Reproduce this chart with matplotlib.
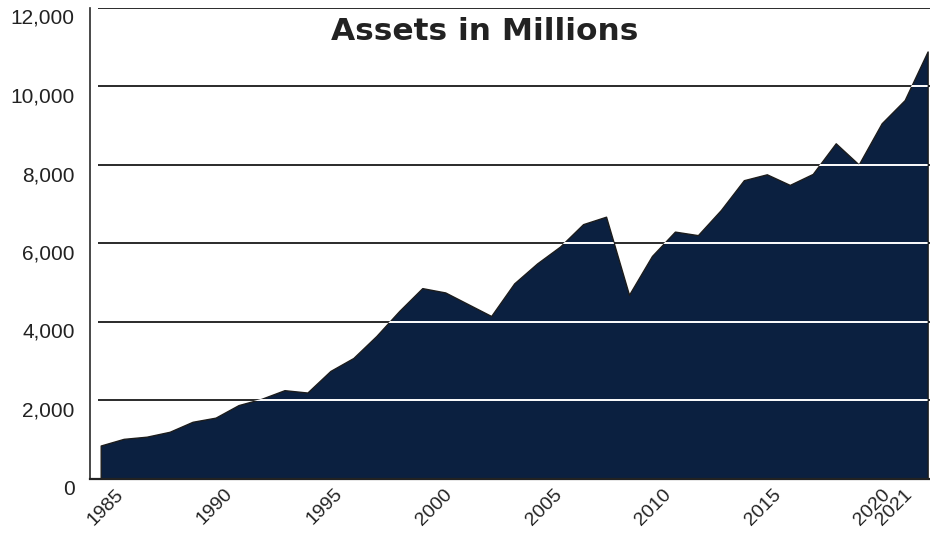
import matplotlib
matplotlib.use("Agg")
import matplotlib.pyplot as plt
import matplotlib.transforms as mtransforms
from matplotlib.patches import Polygon
from matplotlib.ticker import FuncFormatter
import numpy as np

plt.rcParams['font.family'] = ['Liberation Sans', 'DejaVu Sans']

years = list(range(1985, 2022))
assets = [840, 1010, 1065, 1190, 1445, 1550, 1870, 2030, 2250, 2190, 2740,
          3070, 3630, 4270, 4850, 4740, 4440, 4140, 4970, 5480, 5910,
          6480, 6670, 4680, 5670, 6290, 6200, 6840, 7600, 7750, 7480,
          7760, 8540, 8000, 9050, 9640, 10880]
title = "Assets in Millions"
y_ticks = [0, 2000, 4000, 6000, 8000, 10000, 12000]
x_label_years = [1985, 1990, 1995, 2000, 2005, 2010, 2015, 2020, 2021]

navy = '#0b2040'
fig = plt.figure(figsize=(9.3, 5.33), dpi=100)
ax = fig.add_axes([90/930, 1 - 478.5/533, 840/930, (478.5 - 7.5)/533])

x0 = 1985 - 10.7/22.97
x1 = 1985 + (930 - 100.7)/22.97
ax.set_xlim(x0, x1)
ax.set_ylim(0, 12000)

grid_start = 1985 - 3.0/22.97
grid_vals = [v for v in y_ticks if v > 0]
ax.hlines(grid_vals, grid_start, x1, colors='#2a2a2a', linewidth=1.4, zorder=1)

ax.fill_between(years, assets, 0, facecolor=navy, edgecolor='#1c1c1c',
                linewidth=1.0, zorder=2)

verts = [(years[0], 0)] + list(zip(years, assets)) + [(years[-1], 0)]
clip = Polygon(verts, closed=True, transform=ax.transData,
               facecolor='none', edgecolor='none')
ax.add_patch(clip)
wl = ax.hlines(grid_vals, grid_start, x1, colors='white', linewidth=1.4, zorder=3)
wl.set_clip_path(clip)

for s in ['top', 'right']:
    ax.spines[s].set_visible(False)
ax.spines['left'].set_color('#2a2a2a')
ax.spines['left'].set_linewidth(1.2)
ax.spines['bottom'].set_color('#222222')
ax.spines['bottom'].set_linewidth(1.6)
ax.spines['bottom'].set_zorder(4)

ax.set_yticks(y_ticks)
ax.yaxis.set_major_formatter(FuncFormatter(lambda v, p: f"{int(v):,}"))
ax.tick_params(axis='y', length=0, pad=11, labelsize=15, labelcolor='#222222')
offy = mtransforms.ScaledTranslation(0, -9/100, fig.dpi_scale_trans)
for lab in ax.get_yticklabels():
    lab.set_transform(lab.get_transform() + offy)

ax.set_xticks(x_label_years)
ax.set_xticklabels([str(y) for y in x_label_years], rotation=45, ha='right',
                   va='center', rotation_mode='anchor', fontsize=14,
                   color='#222222')
ax.tick_params(axis='x', which='major', length=0, pad=9.5)
for yr, lab in zip(x_label_years, ax.get_xticklabels()):
    dx_px = 20 - (yr - 1985) * 1.05
    off = mtransforms.ScaledTranslation(dx_px/100, 0, fig.dpi_scale_trans)
    lab.set_transform(lab.get_transform() + off)

ax.set_xticks([y + 0.5 for y in years[:-1]], minor=True)
ax.tick_params(axis='x', which='minor', direction='in', length=3, width=0.8,
               color='#1a1a1a')

fig.text(484.5/930, 1 - 40/533, title, ha='center', va='baseline',
         fontsize=22.5, fontweight='bold', color='#222222',
         family=['DejaVu Sans'])

fig.savefig('out.png', dpi=100)
